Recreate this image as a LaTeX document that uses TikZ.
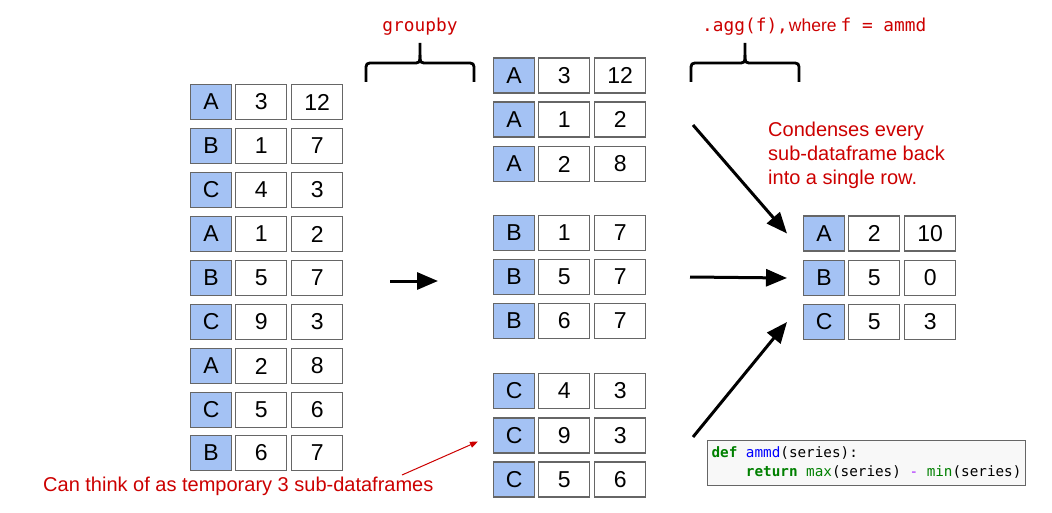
\documentclass[tikz,border=0pt]{standalone}
\usepackage{fontspec}
\setmainfont{Liberation Sans}
\setmonofont{DejaVu Sans Mono}
\usetikzlibrary{arrows.meta}
\definecolor{keyblue}{HTML}{A4C2F4}
\definecolor{boxgray}{HTML}{666666}
\definecolor{redtxt}{HTML}{CC0000}
\definecolor{codegreen}{HTML}{008000}
\definecolor{codeblue}{HTML}{0000FF}
\definecolor{codepurple}{HTML}{AA22FF}
\definecolor{codebg}{HTML}{F8F8F8}
\newcommand\drow[6]{%
  \node[keycell] (#1k) at (#2,#3) {#4};
  \node[valcell] (#1a) at (#2+45,#3) {#5};
  \node[valcell] (#1b) at (#2+101,#3) {#6};
}
\newcommand\csp{\hspace*{0.602em}}
\begin{document}
\begin{tikzpicture}[x=1pt,y=-1pt,
  cell/.style={draw=boxgray, line width=1.3pt, minimum height=35pt, inner sep=0pt, anchor=west,
    font=\fontsize{23}{26}\selectfont},
  keycell/.style={cell, fill=keyblue, minimum width=41pt},
  valcell/.style={cell, fill=white, minimum width=51pt},
  bigarrow/.style={line width=3pt, -{Triangle[length=21pt,width=17pt]}},
  bracepath/.style={line width=2.8pt},
  redmono/.style={text=redtxt, font=\fontsize{17.8}{21}\ttfamily},
  redsans/.style={text=redtxt, font=\fontsize{20}{24}\selectfont},
]
\useasboundingbox (0,0) rectangle (1052,513);
% left table
\drow{l1}{190}{102}{A}{3}{12}
\drow{l2}{190}{146}{B}{1}{7}
\drow{l3}{190}{190}{C}{4}{3}
\drow{l4}{190}{234}{A}{1}{2}
\drow{l5}{190}{278}{B}{5}{7}
\drow{l6}{190}{322}{C}{9}{3}
\drow{l7}{190}{366}{A}{2}{8}
\drow{l8}{190}{410}{C}{5}{6}
\drow{l9}{190}{453}{B}{6}{7}
% middle groups
\drow{mA1}{493}{75.5}{A}{3}{12}
\drow{mA2}{493}{119.5}{A}{1}{2}
\drow{mA3}{493}{164}{A}{2}{8}
\drow{mB1}{493}{233}{B}{1}{7}
\drow{mB2}{493}{277}{B}{5}{7}
\drow{mB3}{493}{321}{B}{6}{7}
\drow{mC1}{493}{391}{C}{4}{3}
\drow{mC2}{493}{435.5}{C}{9}{3}
\drow{mC3}{493}{479.5}{C}{5}{6}
% result
\drow{rA}{803}{233.5}{A}{2}{10}
\drow{rB}{803}{278}{B}{5}{0}
\drow{rC}{803}{322}{C}{5}{3}
% braces
\draw[bracepath] (366,82) -- (366,71) .. controls (366,63) .. (374,63) -- (412,63)
  .. controls (420,63) .. (420,55) -- (420,43);
\draw[bracepath] (420,55) .. controls (420,63) .. (428,63) -- (466,63)
  .. controls (474,63) .. (474,71) -- (474,82);
\draw[bracepath] (691,82) -- (691,71) .. controls (691,63) .. (699,63) -- (737,63)
  .. controls (745,63) .. (745,55) -- (745,43);
\draw[bracepath] (745,55) .. controls (745,63) .. (753,63) -- (791,63)
  .. controls (799,63) .. (799,71) -- (799,82);
% labels
\node[redmono] (lgroup) at (420,27) {groupby};
\node[redmono, anchor=west, inner xsep=0pt] (lagg) at (702,27) {.agg(f),\hspace{1pt}{\fontsize{17.5}{20}\rmfamily where}\hspace{4pt}f\csp=\csp ammd};
\node[redsans, anchor=north west, align=left, inner sep=0pt] (lcond) at (768,122)
  {Condenses every\\sub-dataframe back\\into a single row.};
\node[redsans, anchor=west, inner sep=0pt] (lcan) at (43,486) {Can think of as temporary 3 sub-dataframes};
% code box
\node[draw=boxgray, line width=1pt, fill=codebg, anchor=north west, minimum width=318pt,
  minimum height=45pt, align=left, inner xsep=4pt, inner ysep=2pt,
  font=\fontsize{14.3}{19}\ttfamily] (code) at (707,440)
  {\textcolor{codegreen}{\bfseries def}\csp\textcolor{codeblue}{ammd}(series):\phantom{xxxxxxxxxxxxxxxxxxx}\\
   \csp\csp\csp\csp\textcolor{codegreen}{\bfseries return}\csp\textcolor{codegreen}{max}(series)\csp\textcolor{codepurple}{-}\csp\textcolor{codegreen}{min}(series)};
% arrows
\coordinate (g1) at (390,281);
\coordinate (g2) at (438,281);
\draw[bigarrow] (g1) -- (g2);
\coordinate (s1) at (693,125);
\coordinate (s2) at (690,277);
\coordinate (s3) at (693,437);
\draw[bigarrow] (s1) -- ([xshift=-16pt]rAk.west);
\draw[bigarrow] (s2) -- ([xshift=-16pt]rBk.west);
\draw[bigarrow] (s3) -- ([xshift=-16pt]rCk.west);
\coordinate (t1) at (402,475);
\draw[redtxt, line width=1pt, -{Triangle[length=8pt,width=6pt]}] (t1) -- ([xshift=-15pt,yshift=-6pt]mC2k.west);
\end{tikzpicture}
\end{document}
